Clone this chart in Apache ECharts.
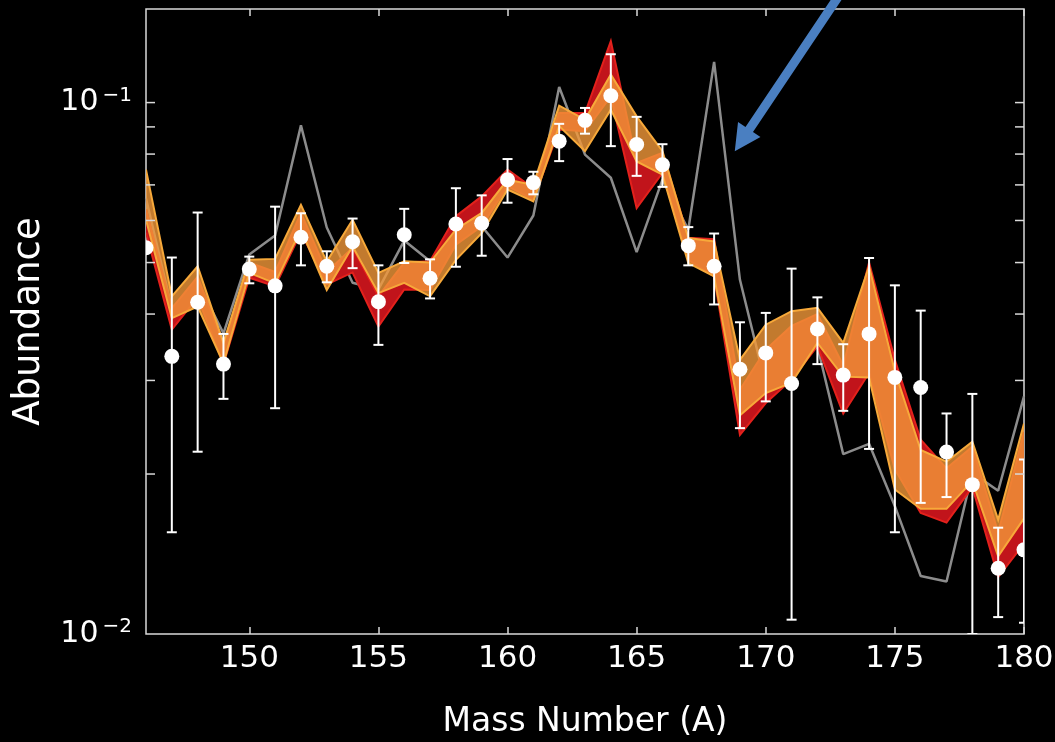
<!DOCTYPE html>
<html>
<head>
<meta charset="utf-8">
<script src="https://cdn.jsdelivr.net/npm/echarts@6/dist/echarts.min.js"></script>
<style>
  html, body { margin: 0; padding: 0; background: #000; }
  #chart { width: 1055px; height: 742px; }
</style>
</head>
<body>
<div id="chart"></div>
<script>
// Mass numbers A = 146 ... 180
const massNumbers = [146,147,148,149,150,151,152,153,154,155,156,157,158,159,160,161,162,163,164,165,166,167,168,169,170,171,172,173,174,175,176,177,178,179,180];

// Measured abundances with lower / upper error limits
const measured =     [0.0533,0.0333,0.0421,0.0322,0.0486,0.0452,0.0558,0.0492,0.0547,0.0422,0.0564,0.0467,0.0591,0.0593,0.0716,0.0707,0.0846,0.0926,0.1030,0.0834,0.0764,0.0538,0.0492,0.0315,0.0338,0.0296,0.0375,0.0307,0.0367,0.0304,0.0291,0.0220,0.0191,0.0133,0.0144];
const measuredLow =  [null,0.01554,0.02203,0.0277,0.0457,0.0266,0.0494,0.0459,0.0488,0.0350,0.0499,0.0428,0.0491,0.0515,0.0648,0.0672,0.0776,0.0874,0.0828,0.0728,0.0694,0.0494,0.0417,0.0244,0.0274,0.01064,0.0322,0.0263,0.0223,0.01554,0.01765,0.0181,0.0100,0.01076,0.0105];
const measuredHigh = [null,0.0511,0.0621,0.0367,0.0513,0.0637,0.0619,0.0525,0.0605,0.0494,0.0631,0.0507,0.0690,0.0669,0.0783,0.0741,0.0912,0.0977,0.1233,0.0940,0.0835,0.0583,0.0567,0.0386,0.0402,0.0487,0.0430,0.0351,0.0510,0.0453,0.0406,0.0260,0.0283,0.01585,0.0213];

// Grey reference curve
const greyModel = [0.066,0.041,0.046,0.0368,0.0518,0.0562,0.0906,0.0582,0.0458,0.0445,0.0550,0.0503,0.0560,0.0585,0.0511,0.0613,0.1070,0.0798,0.0722,0.0523,0.0716,0.0577,0.1193,0.0464,0.0294,0.0320,0.0348,0.0218,0.0228,0.0174,0.01286,0.01255,0.0201,0.0186,0.0280];

// Red band (lower / upper edge)
const redLow =  [0.0569,0.0374,0.0430,0.0322,0.0468,0.0451,0.0570,0.0455,0.0479,0.0379,0.0445,0.0444,0.0540,0.0585,0.0696,0.0657,0.0890,0.0883,0.1027,0.0633,0.0737,0.0506,0.0471,0.0237,0.0272,0.0301,0.0348,0.0260,0.0310,0.0204,0.0169,0.0162,0.0189,0.0128,0.0148];
const redHigh = [0.0630,0.0410,0.0470,0.0350,0.0500,0.0480,0.0620,0.0480,0.0533,0.0432,0.0500,0.0503,0.0611,0.0666,0.0748,0.0690,0.0956,0.0956,0.1305,0.0770,0.0804,0.0557,0.0553,0.0288,0.0343,0.0380,0.0400,0.0320,0.0500,0.0328,0.0232,0.0205,0.0225,0.0155,0.0240];

// Orange band (lower / upper edge)
const orangeLow =  [0.0602,0.0393,0.0413,0.0323,0.0478,0.0457,0.0577,0.0444,0.0536,0.0438,0.0458,0.0432,0.0506,0.0568,0.0686,0.0652,0.0903,0.0810,0.0970,0.0775,0.0732,0.0499,0.0471,0.0258,0.0284,0.0297,0.0353,0.0305,0.0304,0.0187,0.0172,0.0172,0.0194,0.0140,0.0165];
const orangeHigh = [0.0748,0.0432,0.0492,0.0353,0.0506,0.0508,0.0642,0.0502,0.0602,0.0478,0.0503,0.0500,0.0577,0.0620,0.0716,0.0700,0.0987,0.0929,0.1129,0.0942,0.0810,0.0556,0.0548,0.0328,0.0382,0.0405,0.0411,0.0353,0.0492,0.0312,0.0222,0.0211,0.0230,0.0164,0.0249];

// Axis ticks
const xTickValues = [150,155,160,165,170,175,180];
const yTickValues = [0.02,0.03,0.04,0.05,0.06,0.07,0.08,0.09,0.1];
const xMin = 146, xMax = 180, yMin = 0.01, yMax = 0.15;

// Annotation arrow (data coordinates of tip and tail)
const arrowTip = [168.8, 0.081];
const arrowTail = [172.8, 0.158];

const FRAME = '#d9d9d9';
const FONT = 'DejaVu Sans';

const chart = echarts.init(document.getElementById('chart'), null, { renderer: 'canvas' });

function bandRenderer(lows, highs, fill, edge) {
  return function (params, api) {
    const upper = massNumbers.map((m, i) => api.coord([m, highs[i]]));
    const lower = massNumbers.map((m, i) => api.coord([m, lows[i]]));
    const poly = upper.concat(lower.slice().reverse());
    return {
      type: 'group',
      children: [
        { type: 'polygon', shape: { points: poly }, style: { fill: fill } },
        { type: 'polyline', shape: { points: upper }, style: { stroke: edge, lineWidth: 2, fill: null } },
        { type: 'polyline', shape: { points: lower }, style: { stroke: edge, lineWidth: 2, fill: null } }
      ]
    };
  };
}

function pointRenderer(params, api) {
  const i = params.dataIndex;
  const x = api.value(0);
  const p = api.coord([x, api.value(1)]);
  const children = [];
  const lo = measuredLow[i], hi = measuredHigh[i];
  if (lo != null && hi != null) {
    const a = api.coord([x, lo]);
    const b = api.coord([x, hi]);
    const cap = 5;
    const st = { stroke: '#ffffff', lineWidth: 2 };
    children.push({ type: 'line', shape: { x1: a[0], y1: a[1], x2: b[0], y2: b[1] }, style: st });
    children.push({ type: 'line', shape: { x1: a[0] - cap, y1: a[1], x2: a[0] + cap, y2: a[1] }, style: st });
    children.push({ type: 'line', shape: { x1: b[0] - cap, y1: b[1], x2: b[0] + cap, y2: b[1] }, style: st });
  }
  children.push({ type: 'circle', shape: { cx: p[0], cy: p[1], r: 7.5 }, style: { fill: '#ffffff' } });
  return { type: 'group', children: children };
}

function yTickRenderer(params, api) {
  const v = api.value(1);
  const l = api.coord([xMin, v]);
  const r = api.coord([xMax, v]);
  const len = 9;
  const st = { stroke: FRAME, lineWidth: 1.5 };
  return {
    type: 'group',
    children: [
      { type: 'line', shape: { x1: l[0], y1: l[1], x2: l[0] + len, y2: l[1] }, style: st },
      { type: 'line', shape: { x1: r[0] - len, y1: r[1], x2: r[0], y2: r[1] }, style: st }
    ]
  };
}

function powerLabel(value) {
  const e = Math.log10(value);
  const r = Math.round(e);
  if (Math.abs(e - r) > 1e-6) return '';
  return '{b|10}{s|' + (r < 0 ? '\u2212' + (-r) : String(r)) + '}';
}

const option = {
  backgroundColor: '#000000',
  animation: false,
  grid: {
    left: 146, right: 31, top: 9, bottom: 108,
    outerBoundsMode: 'none', containLabel: false,
    show: true, borderColor: FRAME, borderWidth: 1.5, backgroundColor: 'transparent'
  },
  xAxis: [
    {
      type: 'value', min: xMin, max: xMax, position: 'bottom',
      name: 'Mass Number (A)', nameLocation: 'middle', nameGap: 72,
      nameTextStyle: { color: '#ffffff', fontFamily: FONT, fontSize: 33 },
      axisLine: { show: false }, splitLine: { show: false },
      axisTick: { show: true, inside: true, length: 7, customValues: xTickValues, lineStyle: { color: FRAME, width: 1.5 } },
      axisLabel: { show: true, customValues: xTickValues, margin: 9, color: '#ffffff', fontFamily: FONT, fontSize: 31 }
    },
    {
      type: 'value', min: xMin, max: xMax, position: 'top',
      axisLine: { show: false }, splitLine: { show: false },
      axisTick: { show: true, inside: true, length: 7, customValues: xTickValues, lineStyle: { color: FRAME, width: 1.5 } },
      axisLabel: { show: false }
    }
  ],
  yAxis: {
    type: 'log', logBase: 10, min: yMin, max: yMax,
    name: 'Abundance', nameLocation: 'middle', nameGap: 98, nameRotate: 90,
    nameTextStyle: { color: '#ffffff', fontFamily: FONT, fontSize: 37 },
    axisLine: { show: false }, splitLine: { show: false }, axisTick: { show: false },
    minorTick: { show: false },
    axisLabel: {
      margin: 14, color: '#ffffff', fontFamily: FONT,
      formatter: powerLabel,
      rich: {
        b: { fontFamily: FONT, fontSize: 30, color: '#ffffff', lineHeight: 34 },
        s: { fontFamily: FONT, fontSize: 20, color: '#ffffff', verticalAlign: 'top', lineHeight: 22, padding: [0, 0, 0, 4] }
      }
    }
  },
  series: [
    {
      name: 'model',
      type: 'line', xAxisIndex: 0, yAxisIndex: 0,
      data: massNumbers.map((m, i) => [m, greyModel[i]]),
      showSymbol: false, clip: true, z: 2,
      lineStyle: { color: '#8c8c8c', width: 2.5 }
    },
    {
      name: 'red band',
      type: 'custom', xAxisIndex: 0, yAxisIndex: 0, clip: true, z: 3,
      data: [[massNumbers[0], redLow[0]]],
      renderItem: bandRenderer(redLow, redHigh, '#c1141b', '#e3211c')
    },
    {
      name: 'orange band',
      type: 'custom', xAxisIndex: 0, yAxisIndex: 0, clip: true, z: 4,
      data: [[massNumbers[0], orangeLow[0]]],
      renderItem: bandRenderer(orangeLow, orangeHigh, 'rgba(243,152,58,0.8)', '#f7a93a')
    },
    {
      name: 'measured',
      type: 'custom', xAxisIndex: 0, yAxisIndex: 0, clip: true, z: 5,
      data: massNumbers.map((m, i) => [m, measured[i]]),
      renderItem: pointRenderer
    },
    {
      name: 'y ticks',
      type: 'custom', xAxisIndex: 0, yAxisIndex: 0, clip: false, z: 6, silent: true,
      data: yTickValues.map(v => [xMin, v]),
      renderItem: yTickRenderer
    }
  ]
};

chart.setOption(option);

// Annotation arrow pointing at the grey peak
(function drawArrow() {
  const tip = chart.convertToPixel({ seriesIndex: 0 }, arrowTip);
  const tail = chart.convertToPixel({ seriesIndex: 0 }, arrowTail);
  const dx = tip[0] - tail[0], dy = tip[1] - tail[1];
  const len = Math.sqrt(dx * dx + dy * dy);
  const ux = dx / len, uy = dy / len;
  const px = -uy, py = ux;
  const headLen = 26, headHalf = 13.5, shaftHalf = 4.5;
  const bx = tip[0] - ux * headLen, by = tip[1] - uy * headLen;
  const pts = [
    [tail[0] + px * shaftHalf, tail[1] + py * shaftHalf],
    [bx + px * shaftHalf, by + py * shaftHalf],
    [bx + px * headHalf, by + py * headHalf],
    [tip[0], tip[1]],
    [bx - px * headHalf, by - py * headHalf],
    [bx - px * shaftHalf, by - py * shaftHalf],
    [tail[0] - px * shaftHalf, tail[1] - py * shaftHalf]
  ];
  chart.setOption({
    graphic: [{ type: 'polygon', z: 100, shape: { points: pts }, style: { fill: '#4a7fc1' } }]
  });
})();
</script>
</body>
</html>
